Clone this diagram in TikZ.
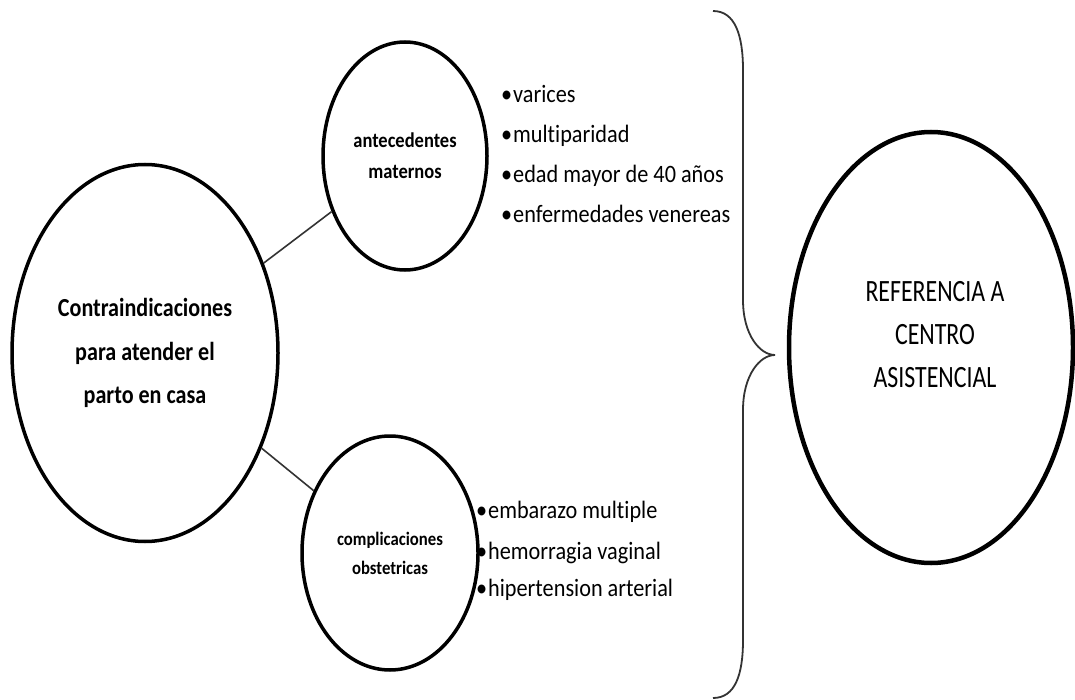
\documentclass[tikz,border=0pt]{standalone}
\usepackage{fontspec}
\setmainfont{Carlito}[Ligatures=NoCommon]
\newfontfamily\listf{Carlito}[FakeStretch=0.89,Ligatures=NoCommon]
\newfontfamily\capf{Carlito}[FakeStretch=0.77,Ligatures=NoCommon]
\newfontfamily\boldf{Carlito}[FakeStretch=0.85,Ligatures=NoCommon]
\newfontfamily\smallbf{Carlito}[FakeStretch=0.88,Ligatures=NoCommon]
\usetikzlibrary{shapes.geometric}
\tikzset{
  bub/.style={ellipse, draw=black, line width=3.5pt, inner sep=0pt, fill=white, align=center},
  conn/.style={draw=black!80, line width=1.6pt},
  bracepath/.style={draw=black!80, line width=1.8pt},
  item/.style={anchor=base west, inner sep=0pt, font=\listf\fontsize{25}{40}\selectfont},
}
\begin{document}
\begin{tikzpicture}[x=1pt,y=-1pt]
\useasboundingbox[fill=white] (0,0) rectangle (1075,700);
% nodes
\node[bub, minimum width=266pt, minimum height=377pt,
      font=\boldf\bfseries\fontsize{26}{43.5}\selectfont] (main) at (145,353)
      {Contraindicaciones\\para atender el\\parto en casa};
\node[bub, minimum width=164pt, minimum height=228pt,
      font=\smallbf\bfseries\fontsize{21}{31}\selectfont] (ante) at (405,156)
      {antecedentes\\maternos};
\node[bub, minimum width=176pt, minimum height=234pt,
      font=\smallbf\bfseries\fontsize{19}{29}\selectfont] (comp) at (390,553)
      {complicaciones\\obstetricas};
\node[bub, line width=4.5pt, minimum width=284pt, minimum height=431pt] (ref) at (931,347.5) {};
\node[align=center, inner sep=0pt, font=\capf\fontsize{31}{43}\selectfont] (reftext) at (935,335)
      {REFERENCIA A\\CENTRO\\ASISTENCIAL};
% connectors
\draw[conn] (main) -- (ante);
\draw[conn] (main) -- (comp);
% lists
\node[item] (a1) at (513,103) {\llap{•\hspace{1pt}}varices};
\node[item] (a2) at (513,143) {\llap{•\hspace{1pt}}multiparidad};
\node[item] (a3) at (513,183) {\llap{•\hspace{1pt}}edad mayor de 40 años};
\node[item] (a4) at (513,223) {\llap{•\hspace{1pt}}enfermedades venereas};
\node[item] (b1) at (488,518) {\llap{•\hspace{1pt}}embarazo multiple};
\node[item] (b2) at (488,559) {\llap{•\hspace{1pt}}hemorragia vaginal};
\node[item] (b3) at (488,596) {\llap{•\hspace{1pt}}hipertension arterial};
% brace
\coordinate (btop) at (713,11);
\coordinate (btip) at (775,355);
\coordinate (bbot) at (713,698);
\draw[bracepath] (btop) .. controls (735,11) and (743,35) .. (743,70)
  -- (743,300) .. controls (743,335) and (760,355) .. (btip)
  .. controls (760,355) and (743,375) .. (743,410)
  -- (743,640) .. controls (743,675) and (735,698) .. (bbot);
\end{tikzpicture}
\end{document}
